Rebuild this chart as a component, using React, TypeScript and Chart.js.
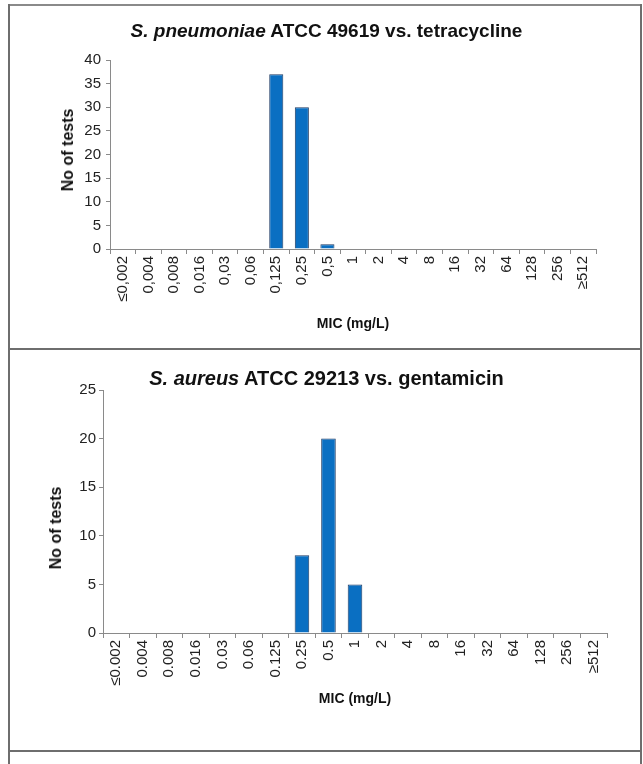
import React, { useEffect, useRef } from "react";
import { Chart, registerables } from "chart.js";
Chart.register(...registerables);

const topCategories = ["≤0,002", "0,004", "0,008", "0,016", "0,03", "0,06", "0,125", "0,25", "0,5", "1", "2", "4", "8", "16", "32", "64", "128", "256", "≥512"];
const topValues = [0, 0, 0, 0, 0, 0, 37, 30, 1, 0, 0, 0, 0, 0, 0, 0, 0, 0, 0];
const topYMax = 40;
const topYStep = 5;

const bottomCategories = ["≤0.002", "0.004", "0.008", "0.016", "0.03", "0.06", "0.125", "0.25", "0.5", "1", "2", "4", "8", "16", "32", "64", "128", "256", "≥512"];
const bottomValues = [0, 0, 0, 0, 0, 0, 0, 8, 20, 5, 0, 0, 0, 0, 0, 0, 0, 0, 0];
const bottomYMax = 25;
const bottomYStep = 5;

const yTitle = "No of tests";
const xTitle = "MIC (mg/L)";

const FONT = "'Liberation Sans', Arial, sans-serif";

type Geo = {
  top: number;
  height: number;
  padLeft: number;
  padRight: number;
  padTop: number;
  padBottom: number;
  yWidth: number;
  xHeight: number;
  yTickPad: number;
};

function MicChart(props: { labels: string[]; values: number[]; yMax: number; yStep: number; geo: Geo }) {
  const ref = useRef<HTMLCanvasElement>(null);
  const { labels, values, yMax, yStep, geo } = props;
  useEffect(() => {
    const chart = new Chart(ref.current as HTMLCanvasElement, {
      type: "bar",
      data: {
        labels,
        datasets: [
          {
            data: values,
            backgroundColor: "#0a6fc2",
            borderColor: "#1d3a63",
            borderWidth: (c: any) => (c.raw === 0 ? 0 : 1),
            barPercentage: 0.55,
            categoryPercentage: 1,
          },
        ],
      },
      options: {
        responsive: false,
        animation: false,
        layout: { padding: { left: geo.padLeft, right: geo.padRight, top: geo.padTop, bottom: geo.padBottom } },
        plugins: { legend: { display: false }, tooltip: { enabled: false }, title: { display: false } },
        scales: {
          x: {
            offset: true,
            grid: { display: true, drawOnChartArea: false, drawTicks: true, tickLength: 5, color: "#8a8a8a", offset: true },
            border: { display: true, color: "#8a8a8a", width: 1 },
            ticks: {
              autoSkip: false,
              minRotation: 90,
              maxRotation: 90,
              padding: 2,
              color: "#222",
              font: { family: FONT, size: 15 },
            },
            title: { display: true, text: xTitle, color: "#111", font: { family: FONT, size: 14, weight: "bold" }, padding: { top: 4, bottom: 4 } },
            afterFit: (s: any) => {
              s.height = geo.xHeight;
            },
          },
          y: {
            min: 0,
            max: yMax,
            grid: { display: true, drawOnChartArea: false, drawTicks: true, tickLength: 4, color: "#8a8a8a" },
            border: { display: true, color: "#8a8a8a", width: 1 },
            ticks: { stepSize: yStep, padding: geo.yTickPad, color: "#222", font: { family: FONT, size: 15 } },
            title: { display: false, text: yTitle },
            afterFit: (s: any) => {
              s.width = geo.yWidth;
            },
          },
        },
      },
    } as any);
    return () => chart.destroy();
  }, []);
  return (
    <canvas
      ref={ref}
      width={643}
      height={geo.height}
      style={{ position: "absolute", left: 0, top: geo.top, width: 643, height: geo.height }}
    />
  );
}

const borderColor = "#6e6e6e";

function YTitle(props: { cx: number; cy: number }) {
  return (
    <div
      style={{
        position: "absolute",
        left: props.cx,
        top: props.cy,
        transform: "translate(-50%, -50%) rotate(-90deg)",
        whiteSpace: "nowrap",
        fontFamily: FONT,
        fontWeight: "bold",
        fontSize: 16,
        lineHeight: "18px",
        color: "#111",
        zIndex: 2,
      }}
    >
      {yTitle}
    </div>
  );
}

export default function App() {
  const titleStyle: React.CSSProperties = {
    position: "absolute",
    left: 10,
    width: 633,
    textAlign: "center",
    fontFamily: FONT,
    fontWeight: "bold",
    lineHeight: "20px",
    color: "#111",
    zIndex: 2,
  };
  return (
    <div style={{ position: "absolute", left: 0, top: 0, width: 643, height: 764, background: "#fff", overflow: "hidden" }}>
      <MicChart
        labels={topCategories}
        values={topValues}
        yMax={topYMax}
        yStep={topYStep}
        geo={{ top: 0, height: 348, padLeft: 54, padRight: 47, padTop: 60, padBottom: 11, yWidth: 56, xHeight: 88, yTickPad: 5 }}
      />
      <MicChart
        labels={bottomCategories}
        values={bottomValues}
        yMax={bottomYMax}
        yStep={bottomYStep}
        geo={{ top: 350, height: 400, padLeft: 42, padRight: 36, padTop: 40, padBottom: 38, yWidth: 61, xHeight: 79, yTickPad: 3 }}
      />
      <YTitle cx={68} cy={150} />
      <YTitle cx={56} cy={528} />
      <div style={{ ...titleStyle, top: 21, fontSize: 19 }}>
        <i>S. pneumoniae</i> ATCC 49619 vs. tetracycline
      </div>
      <div style={{ ...titleStyle, top: 368, fontSize: 20 }}>
        <i>S. aureus</i> ATCC 29213 vs. gentamicin
      </div>
      {/* table borders */}
      <div style={{ position: "absolute", left: 8, top: 4, width: 634, height: 2, background: "#8a8a8a" }} />
      <div style={{ position: "absolute", left: 8, top: 4, width: 2, height: 760, background: borderColor }} />
      <div style={{ position: "absolute", left: 640, top: 4, width: 2, height: 760, background: borderColor }} />
      <div style={{ position: "absolute", left: 8, top: 348, width: 634, height: 2, background: borderColor }} />
      <div style={{ position: "absolute", left: 8, top: 750, width: 634, height: 2, background: borderColor }} />
    </div>
  );
}
